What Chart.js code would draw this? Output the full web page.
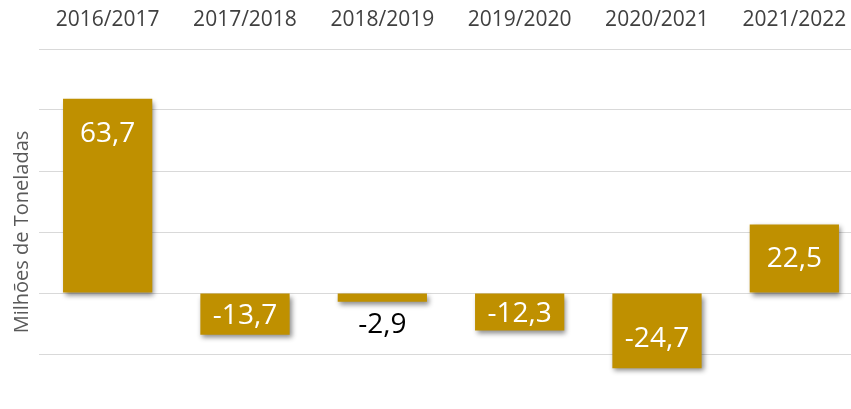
<!DOCTYPE html>
<html>
<head>
<meta charset="utf-8">
<script src="https://cdn.jsdelivr.net/npm/chart.js@4"></script>
<style>
  html, body { margin: 0; padding: 0; background: #fff; overflow: hidden; }
  #wrap { width: 863px; height: 420px; }
</style>
</head>
<body>
<div id="wrap"><canvas id="myChart"></canvas></div>
<script>
// dados (milhões de toneladas)
const safras = ["2016/2017", "2017/2018", "2018/2019", "2019/2020", "2020/2021", "2021/2022"];
const variacao = [63.7, -13.7, -2.9, -12.3, -24.7, 22.5];
const rotulos = ["63,7", "-13,7", "-2,9", "-12,3", "-24,7", "22,5"];

const dourado = "#BF9000";

// sombra nas barras
const sombra = {
  id: "sombra",
  beforeDatasetDraw(chart) {
    const ctx = chart.ctx;
    ctx.save();
    ctx.shadowColor = "rgba(0,0,0,0.45)";
    ctx.shadowBlur = 5;
    ctx.shadowOffsetX = 2;
    ctx.shadowOffsetY = 3;
  },
  afterDatasetDraw(chart) {
    chart.ctx.restore();
  }
};

// rotulos de valor
const valores = {
  id: "valores",
  afterDatasetsDraw(chart) {
    const ctx = chart.ctx;
    const meta = chart.getDatasetMeta(0);
    ctx.save();
    ctx.font = "28px 'Open Sans'";
    ctx.textAlign = "center";
    ctx.textBaseline = "middle";
    meta.data.forEach(function(bar, i) {
      const len = Math.abs(bar.base - bar.y);
      const neg = variacao[i] < 0;
      let y;
      ctx.fillStyle = "#ffffff";
      if (len < 25) {
        y = bar.y + (neg ? 21 : -21);
        ctx.fillStyle = "#000000";
      } else if (len > 66) {
        y = neg ? bar.y - 31 : bar.y + 33;
      } else {
        y = (bar.y + bar.base) / 2;
      }
      ctx.fillText(rotulos[i], bar.x, y + 2);
    });
    ctx.restore();
  }
};

const ctx = document.getElementById("myChart");

new Chart(ctx, {
  type: "bar",
  data: {
    labels: safras,
    datasets: [{
      data: variacao,
      backgroundColor: dourado,
      borderWidth: 0,
      categoryPercentage: 1,
      barPercentage: 0.65
    }]
  },
  options: {
    responsive: true,
    maintainAspectRatio: false,
    animation: false,
    layout: { padding: { left: 0, right: 0, top: 0, bottom: 5 } },
    plugins: {
      legend: { display: false },
      tooltip: { enabled: false }
    },
    scales: {
      x: {
        position: "top",
        grid: { display: false, drawTicks: false },
        border: { display: false },
        ticks: {
          color: "#404040",
          font: { family: "Open Sans", size: 21 },
          padding: 16
        },
        afterFit(scale) { scale.height = 49; }
      },
      y: {
        min: -40,
        max: 80,
        grid: { color: "#d9d9d9", lineWidth: 1, drawTicks: false },
        border: { display: false },
        ticks: { display: false, stepSize: 20 },
        title: {
          display: true,
          text: "Milhões de Toneladas",
          color: "#595959",
          font: { family: "Open Sans", size: 20 },
          padding: { top: 10, bottom: 0 }
        },
        afterFit(scale) { scale.width = 39; }
      }
    }
  },
  plugins: [sombra, valores]
});
</script>
</body>
</html>
